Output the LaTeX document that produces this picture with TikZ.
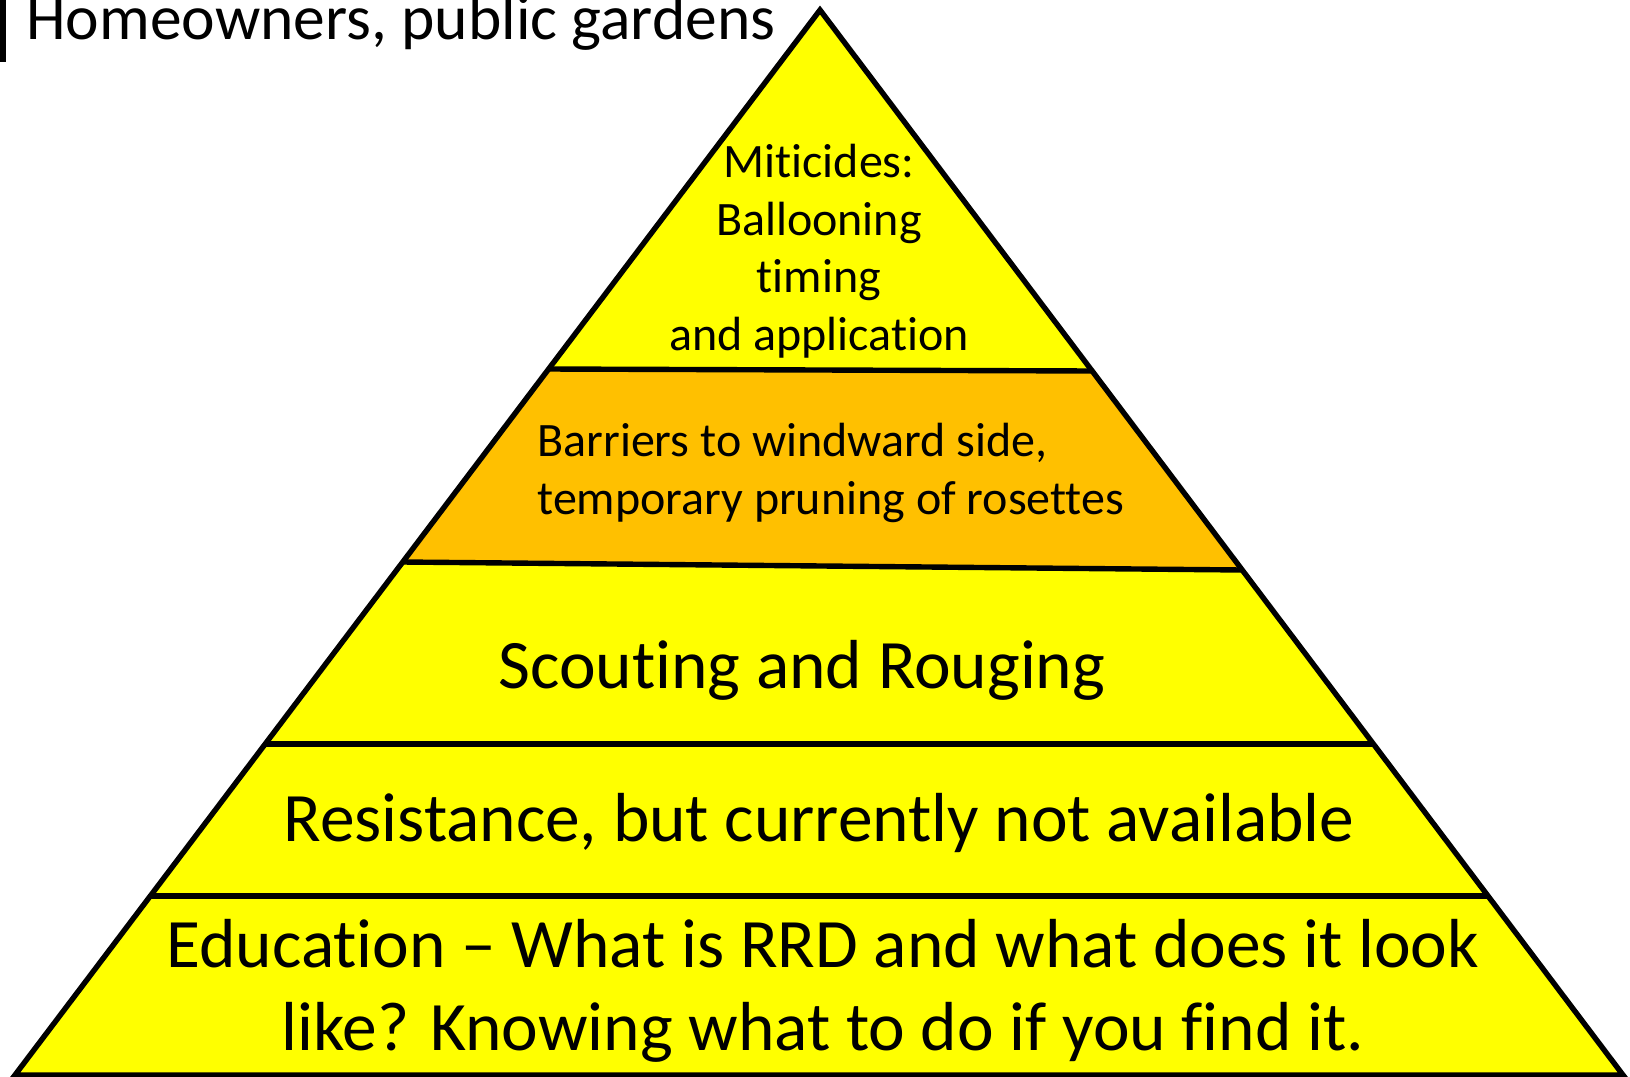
\documentclass[tikz,border=0pt]{standalone}
\usepackage{fontspec}
\setmainfont{Carlito}[Ligatures={NoCommon}]
\definecolor{bandyellow}{HTML}{FFFF00}
\definecolor{bandorange}{HTML}{FFC000}
\tikzset{
  outline/.style={draw=black, line width=2.7pt, line join=miter},
  divider/.style={draw=black, line width=2.7pt},
  bigtext/.style={inner sep=0pt, align=center, font=\fontsize{34.7}{41.5}\selectfont},
  smalltext/.style={inner sep=0pt, font=\fontsize{24}{28.75}\selectfont}
}
\begin{document}
\begin{tikzpicture}[x=0.5pt, y=-0.5pt]
  \useasboundingbox (0,0) rectangle (1630,1077);
  % corner points of the pyramid and its bands
  \coordinate (apex) at (820,10);
  \coordinate (l1) at (548.6,369);  \coordinate (r1) at (1092.2,371);
  \coordinate (l2) at (402.8,562);  \coordinate (r2) at (1242.2,570);
  \coordinate (l3) at (265.2,744);  \coordinate (r3) at (1373.4,744);
  \coordinate (l4) at (150.3,896);  \coordinate (r4) at (1488.1,896);
  \coordinate (bl) at (15,1075);    \coordinate (br) at (1623,1075);

  % bands
  \fill[bandyellow] (apex) -- (r1) -- (l1) -- cycle;
  \fill[bandorange] (l1) -- (r1) -- (r2) -- (l2) -- cycle;
  \fill[bandyellow] (l2) -- (r2) -- (r3) -- (l3) -- cycle;
  \fill[bandyellow] (l3) -- (r3) -- (r4) -- (l4) -- cycle;
  \fill[bandyellow] (l4) -- (r4) -- (br) -- (bl) -- cycle;

  % dividers and outline
  \draw[divider] (l1) -- (r1);
  \draw[divider] (l2) -- (r2);
  \draw[divider] (l3) -- (r3);
  \draw[divider] (l4) -- (r4);
  \draw[outline] (apex) -- (br) -- (bl) -- cycle;

  % heading at the top left
  \coordinate (bartop) at (3,0);
  \coordinate (barbot) at (3,62);
  \draw[line width=3pt] (bartop) -- (barbot);
  \node[anchor=base west, inner sep=0pt, font=\fontsize{31.75}{38}\selectfont]
    (head) at (26,39) {Homeowners, public gardens};

  % band labels
  \node[smalltext, align=center] (mit) at (819,251)
    {Miticides:\\Ballooning\\timing\\and application};
  \node[smalltext, align=left, anchor=west] (bar) at (537,473)
    {Barriers to windward side,\\temporary pruning of rosettes};
  \node[bigtext] (scout) at (802,670) {Scouting and Rouging};
  \node[bigtext] (res) at (819,823) {Resistance, but currently not available};
  \node[bigtext] (edu) at (823,991)
    {Education -- What is RRD and what does it look\\like? Knowing what to do if you find it.};
\end{tikzpicture}
\end{document}
